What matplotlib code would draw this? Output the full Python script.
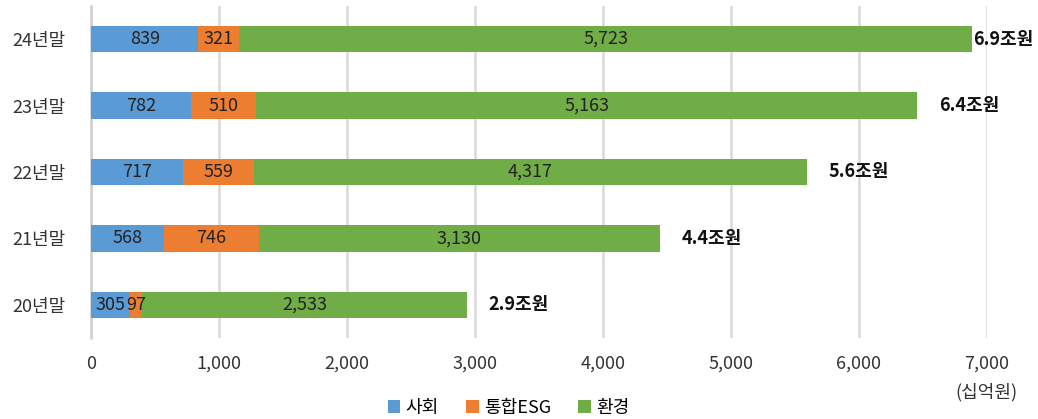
import matplotlib
matplotlib.use("Agg")
import matplotlib.pyplot as plt
import numpy as np

plt.rcParams["font.family"] = ["Noto Sans CJK KR", "DejaVu Sans"]

years = ["20년말", "21년말", "22년말", "23년말", "24년말"]
social = [305, 568, 717, 782, 839]
esg = [97, 746, 559, 510, 321]
env = [2533, 3130, 4317, 5163, 5723]
total_labels = ["2.9조원", "4.4조원", "5.6조원", "6.4조원", "6.9조원"]

colors = {"사회": "#5B9BD5", "통합ESG": "#ED7D31", "환경": "#70AD47"}

fig = plt.figure(figsize=(10.38, 4.19), dpi=100)
ax = fig.add_axes([0.0877, 0.193, 0.863, 0.793])

y = np.arange(len(years))
h = 0.4
social = np.array(social)
esg = np.array(esg)
env = np.array(env)

ax.barh(y, social, h, color=colors["사회"], label="사회", zorder=3)
ax.barh(y, esg, h, left=social, color=colors["통합ESG"], label="통합ESG", zorder=3)
ax.barh(y, env, h, left=social + esg, color=colors["환경"], label="환경", zorder=3)

fs = 13
for i in range(len(years)):
    ax.text(social[i] / 2, y[i], f"{social[i]:,}", ha="center", va="center",
            fontsize=fs, color="#222222", zorder=4)
    ax.text(social[i] + esg[i] / 2, y[i], f"{esg[i]:,}", ha="center", va="center",
            fontsize=fs, color="#222222", zorder=4)
    ax.text(social[i] + esg[i] + env[i] / 2, y[i], f"{env[i]:,}", ha="center",
            va="center", fontsize=fs, color="#222222", zorder=4)
    total = social[i] + esg[i] + env[i]
    # last label sits right at the bar end, the rest have a small gap
    pad = 10 if i == len(years) - 1 else 170
    ax.text(total + pad, y[i], total_labels[i], ha="left", va="center",
            fontsize=fs, fontweight="bold", color="#111111", zorder=4)

ax.set_xlim(0, 7000)
ax.set_ylim(-0.5, 4.5)
ax.set_xticks(range(0, 7001, 1000))
ax.set_xticklabels([f"{v:,}" for v in range(0, 7001, 1000)], fontsize=fs, color="#333333")
ax.set_yticks(y)
ax.set_yticklabels(years, fontsize=fs, color="#333333")
ax.tick_params(axis="y", length=0, pad=18)
ax.tick_params(axis="x", length=0, pad=12)

ax.grid(axis="x", color="#d9d9d9", linewidth=1.8, zorder=0)
for s in ["top", "right", "bottom"]:
    ax.spines[s].set_visible(False)
ax.spines["left"].set_color("#d0d0d0")
ax.spines["left"].set_linewidth(1.8)

ax.annotate("(십억원)", xy=(1, 0), xycoords="axes fraction", xytext=(0, -39),
            textcoords="offset points", ha="center", va="center", fontsize=fs,
            color="#333333")

fig.legend(loc="center", bbox_to_anchor=(0.49, 11 / 419), ncol=3, frameon=False,
           fontsize=fs, handlelength=0.7, handleheight=0.7, handletextpad=0.3,
           columnspacing=1.5)

fig.savefig("out.png", dpi=100)
